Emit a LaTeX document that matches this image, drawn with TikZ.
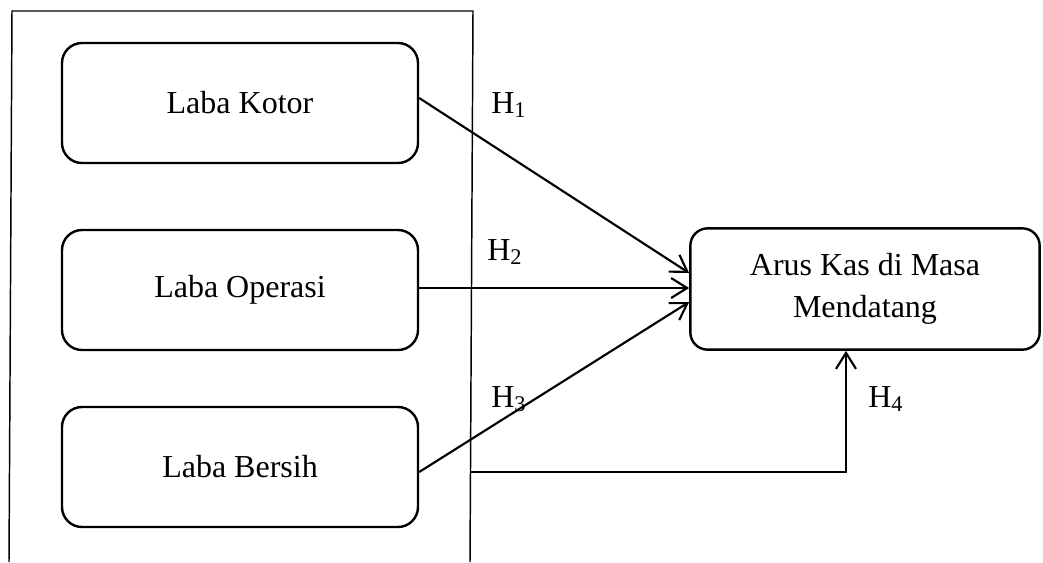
\documentclass[tikz,border=0pt]{standalone}
\usepackage{fontspec}
\setmainfont{Liberation Serif}
\usetikzlibrary{arrows.meta}
\begin{document}
\begin{tikzpicture}[x=0.75pt,y=-0.75pt,
  every node/.style={font=\fontsize{24}{32}\selectfont},
  varbox/.style={draw,line width=1.8pt,rounded corners=15pt,minimum width=267pt,minimum height=90pt,align=center,inner sep=0pt},
  resbox/.style={draw,line width=1.8pt,rounded corners=13pt,minimum width=262pt,minimum height=91pt,align=center,inner sep=0pt},
  frame/.style={line width=1.1pt},
  hyp/.style={line width=1.6pt,-{Straight Barb[length=12pt,width=15pt,line width=1.6pt]}},
  lab/.style={anchor=base west,inner sep=0pt}]
\useasboundingbox (0,0) rectangle (1043,562);
% frame
\coordinate (ftl) at (12,11);
\coordinate (ftr) at (473,11);
\coordinate (fbl) at (9,562);
\coordinate (fbr) at (470,562);
\draw[frame] (fbl) -- (ftl) -- (ftr) -- (fbr);
% boxes
\node[varbox] (b1) at (240,103) {Laba Kotor};
\node[varbox] (b2) at (240,290) {Laba Operasi};
\node[varbox] (b3) at (240,467) {Laba Bersih};
\node[resbox] (r) at (865,289) {Arus Kas di Masa\\Mendatang};
% arrows
\draw[hyp] ([yshift=3.75pt]b1.east) -- ([yshift=12pt]r.west);
\draw[hyp] ([yshift=1.5pt]b2.east) -- ([yshift=0.75pt]r.west);
\draw[hyp] ([yshift=-3.75pt]b3.east) -- ([yshift=-9.75pt]r.west);
\coordinate (h4s) at (471,472);
\draw[hyp] (h4s) -| ([xshift=-14.25pt]r.south);
% labels
\node[lab] (l1) at (491,113) {H\textsubscript{1}};
\node[lab] (l2) at (487,260) {H\textsubscript{2}};
\node[lab] (l3) at (491,407) {H\textsubscript{3}};
\node[lab] (l4) at (868,407) {H\textsubscript{4}};
\end{tikzpicture}
\end{document}
